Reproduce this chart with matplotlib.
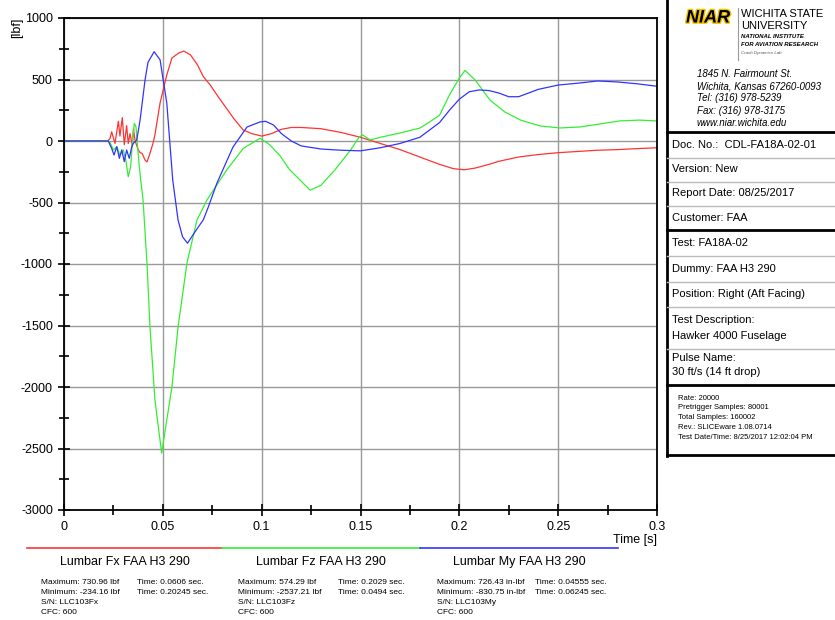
import matplotlib
matplotlib.use("Agg")
import matplotlib.pyplot as plt
from matplotlib.lines import Line2D
from matplotlib.ticker import MultipleLocator
import matplotlib.patheffects as pe

plt.rcParams['font.family'] = ['Liberation Sans', 'DejaVu Sans']
plt.rcParams['axes.unicode_minus'] = False

# Lumbar Fx (red)
t_fx = [0, 0.022, 0.0233, 0.0241, 0.0258, 0.0275, 0.0283, 0.0295, 0.0305, 0.0317, 0.0325,
        0.0334, 0.0346, 0.0351, 0.036, 0.0375, 0.0385, 0.0395, 0.041, 0.042, 0.0435, 0.045,
        0.046, 0.0486, 0.052, 0.0546, 0.058, 0.0606, 0.064, 0.0675, 0.0705, 0.074, 0.078,
        0.082, 0.086, 0.0906, 0.095, 0.1, 0.105, 0.11, 0.115, 0.12, 0.125, 0.13, 0.14, 0.15,
        0.16, 0.17, 0.18, 0.19, 0.197, 0.2025, 0.208, 0.215, 0.22, 0.23, 0.24, 0.25, 0.26,
        0.27, 0.28, 0.29, 0.3]
fx = [0, 0, 20, 75, -20, 160, 40, 190, -30, 125, -20, 60, -40, 100, 0, -70, -95, -100,
      -155, -170, -100, -20, 50, 309, 537, 675, 715, 731, 700, 620, 523, 455, 360, 270, 180,
      90, 60, 40, 60, 95, 110, 110, 105, 100, 70, 30, -20, -70, -130, -190, -225, -234, -220,
      -190, -165, -130, -110, -95, -85, -75, -70, -62, -55]

# Lumbar Fz (green)
t_fz = [0, 0.022, 0.0233, 0.025, 0.0267, 0.0283, 0.03, 0.0314, 0.0325, 0.0337, 0.0347,
        0.0356, 0.0364, 0.0371, 0.0381, 0.0388, 0.040, 0.042, 0.0435, 0.046, 0.0494, 0.0546,
        0.0577, 0.0622, 0.0673, 0.0723, 0.0823, 0.0907, 0.0992, 0.104, 0.109, 0.114, 0.1245,
        0.13, 0.137, 0.145, 0.149, 0.151, 0.155, 0.16, 0.17, 0.18, 0.185, 0.19, 0.195, 0.2,
        0.2029, 0.208, 0.2155, 0.223, 0.231, 0.241, 0.251, 0.261, 0.271, 0.281, 0.291, 0.3]
fz = [0, 0, -13, -73, -46, -114, -73, -168, -290, -209, 8, 144, 116, -19, -209, -317, -480,
      -1000, -1512, -2105, -2537, -2000, -1512, -992, -642, -480, -236, -60, 22, -30, -114,
      -230, -400, -360, -236, -73, 24, 50, 8, 30, 65, 105, 155, 210, 374, 512, 574, 496, 333,
      236, 170, 122, 106, 114, 138, 163, 170, 163]

# Lumbar My (blue)
t_my = [0, 0.0224, 0.0241, 0.0253, 0.0267, 0.028, 0.0292, 0.0305, 0.0317, 0.033, 0.0343,
        0.0351, 0.0368, 0.0385, 0.041, 0.0425, 0.0456, 0.0486, 0.052, 0.055, 0.0577, 0.06,
        0.0625, 0.0658, 0.0705, 0.073, 0.0774, 0.0855, 0.0926, 0.0992, 0.102, 0.106, 0.11,
        0.115, 0.12, 0.13, 0.14, 0.15, 0.16, 0.17, 0.18, 0.19, 0.195, 0.2, 0.205, 0.21, 0.215,
        0.22, 0.225, 0.23, 0.235, 0.24, 0.25, 0.26, 0.27, 0.28, 0.29, 0.3]
my = [0, 0, -60, -114, -46, -141, -73, -168, -73, -141, -46, -19, 8, 171, 496, 640, 726, 660,
      309, -317, -642, -780, -831, -750, -640, -537, -341, -49, 114, 155, 160, 130, 60, 0, -40,
      -65, -75, -80, -55, -20, 30, 150, 250, 340, 400, 415, 410, 390, 360, 360, 390, 420, 455,
      470, 488, 480, 465, 445]

x_ticks = [0, 0.05, 0.1, 0.15, 0.2, 0.25, 0.3]
x_labels = ['0', '0.05', '0.1', '0.15', '0.2', '0.25', '0.3']
y_ticks = [-3000, -2500, -2000, -1500, -1000, -500, 0, 500, 1000]

names = ['Lumbar Fx FAA H3 290', 'Lumbar Fz FAA H3 290', 'Lumbar My FAA H3 290']
colors = ['#ff3333', '#33ee33', '#3333ff']
stats = [
    ['Maximum: 730.96 lbf', 'Minimum: -234.16 lbf', 'S/N: LLC103Fx', 'CFC: 600',
     'Time: 0.0606 sec.', 'Time: 0.20245 sec.'],
    ['Maximum: 574.29 lbf', 'Minimum: -2537.21 lbf', 'S/N: LLC103Fz', 'CFC: 600',
     'Time: 0.2029 sec.', 'Time: 0.0494 sec.'],
    ['Maximum: 726.43 in-lbf', 'Minimum: -830.75 in-lbf', 'S/N: LLC103My', 'CFC: 600',
     'Time: 0.04555 sec.', 'Time: 0.06245 sec.'],
]
info_rows = ['Doc. No.:  CDL-FA18A-02-01', 'Version: New', 'Report Date: 08/25/2017',
             'Customer: FAA', 'Test: FA18A-02', 'Dummy: FAA H3 290',
             'Position: Right (Aft Facing)']
address = ['1845 N. Fairmount St.', 'Wichita, Kansas 67260-0093', 'Tel: (316) 978-5239',
           'Fax: (316) 978-3175', 'www.niar.wichita.edu']
run_info = ['Rate: 20000', 'Pretrigger Samples: 80001', 'Total Samples: 160002',
            'Rev.: SLICEware 1.08.0714', 'Test Date/Time: 8/25/2017 12:02:04 PM']

W, H = 835, 620
fig = plt.figure(figsize=(W / 100, H / 100), dpi=100)


def px(x):
    return x / W


def py(y):
    return 1 - y / H


def hline(x0, x1, y, color='black', lw=1.0):
    fig.add_artist(Line2D([px(x0), px(x1)], [py(y), py(y)], transform=fig.transFigure,
                          color=color, lw=lw))


ax = fig.add_axes([px(64), py(510), px(657) - px(64), py(18) - py(510)])
ax.plot(t_fx, fx, color=colors[0], lw=0.9)
ax.plot(t_fz, fz, color=colors[1], lw=0.9)
ax.plot(t_my, my, color=colors[2], lw=0.9)

ax.set_xlim(0, 0.3)
ax.set_ylim(-3000, 1000)
ax.set_xticks(x_ticks)
ax.set_xticklabels(x_labels)
ax.set_yticks(y_ticks)
ax.xaxis.set_minor_locator(MultipleLocator(0.025))
ax.yaxis.set_minor_locator(MultipleLocator(250))
ax.tick_params(which='major', direction='inout', length=9, width=1.2, labelsize=9)
ax.tick_params(which='minor', direction='inout', length=7, width=1.2)
ax.grid(True, which='major', color='#999999', lw=1)
for s in ax.spines.values():
    s.set_linewidth(1.3)
ax.set_axisbelow(True)

fig.text(px(17), py(28), '[lbf]', rotation=90, ha='center', va='center', fontsize=9)
fig.text(px(657), py(540), 'Time [s]', ha='right', va='center', fontsize=9)

# legend strip under the chart
segs = [(27, 222), (222, 420), (420, 618)]
stat_cols = [(41, 137), (238, 338), (437, 535)]
for i in range(3):
    x0, x1 = segs[i]
    hline(x0, x1, 548, color=colors[i], lw=1.2)
    fig.text(px((x0 + x1) / 2), py(562), names[i], ha='center', va='center', fontsize=9)
    c1, c2 = stat_cols[i]
    for j in range(4):
        fig.text(px(c1), py(583 + 10 * j), stats[i][j], ha='left', va='center', fontsize=6)
    for j in range(2):
        fig.text(px(c2), py(583 + 10 * j), stats[i][4 + j], ha='left', va='center', fontsize=6)

# right info panel
fig.add_artist(Line2D([px(667), px(667)], [py(0), py(456)], transform=fig.transFigure,
                      color='black', lw=2))
for y in [132, 230, 385, 455]:
    hline(667, 835, y, lw=2)
for y in [158, 182, 206, 256, 282, 307, 349]:
    hline(667, 835, y, color='#bbbbbb', lw=1)

fig.text(px(686), py(18), 'NIAR', fontsize=13, fontweight='heavy', style='italic',
         ha='left', va='center',
         path_effects=[pe.withStroke(linewidth=2, foreground='#f2c200')])
fig.add_artist(Line2D([px(738), px(738)], [py(8), py(60)], transform=fig.transFigure,
                      color='#999999', lw=0.8))
fig.text(px(741), py(14), 'WICHITA STATE', fontsize=8, ha='left', va='center')
fig.text(px(741), py(26), 'UNIVERSITY', fontsize=8, ha='left', va='center')
fig.text(px(741), py(37), 'NATIONAL INSTITUTE', fontsize=4.3, fontweight='bold',
         style='italic', ha='left', va='center')
fig.text(px(741), py(44), 'FOR AVIATION RESEARCH', fontsize=4.3, fontweight='bold',
         style='italic', ha='left', va='center')
fig.text(px(741), py(53), 'Crash Dynamics Lab', fontsize=3.2, style='italic',
         ha='left', va='center', color='#555555')
for j, line in enumerate(address):
    fig.text(px(697), py(74 + 12.2 * j), line, fontsize=7, style='italic',
             ha='left', va='center')

info_y = [145, 169, 193, 218, 243, 269, 294]
for y, line in zip(info_y, info_rows):
    fig.text(px(672), py(y), line, fontsize=8, ha='left', va='center')
fig.text(px(672), py(320), 'Test Description:', fontsize=8, ha='left', va='center')
fig.text(px(672), py(336), 'Hawker 4000 Fuselage', fontsize=8, ha='left', va='center')
fig.text(px(672), py(358), 'Pulse Name:', fontsize=8, ha='left', va='center')
fig.text(px(672), py(372), '30 ft/s (14 ft drop)', fontsize=8, ha='left', va='center')
for j, line in enumerate(run_info):
    fig.text(px(678), py(398 + 9.8 * j), line, fontsize=5.5, ha='left', va='center')

fig.savefig('out.png', dpi=100)
